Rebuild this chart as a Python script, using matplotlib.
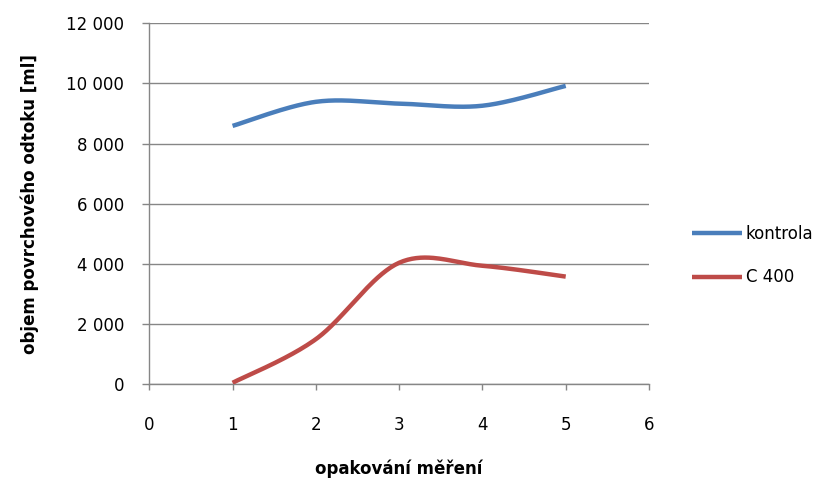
import numpy as np
import matplotlib
matplotlib.use("Agg")
import matplotlib.pyplot as plt
from matplotlib.ticker import FuncFormatter

plt.rcParams['font.family'] = ['DejaVu Sans']

# measurement repetitions and surface runoff volumes [ml]
opakovani = [1, 2, 3, 4, 5]
kontrola = [8590, 9390, 9330, 9260, 9920]
c400 = [50, 1500, 4040, 3940, 3580]

series_names = ["kontrola", "C 400"]
series_colors = ["#4A7EBB", "#BE4B48"]

x_ticks = [0, 1, 2, 3, 4, 5, 6]
y_ticks = [0, 2000, 4000, 6000, 8000, 10000, 12000]


def smooth(xs, ys, n=40):
    """Spreadsheet-style smoothed line: cubic Bezier segments with 1/6 tension."""
    p = np.column_stack([xs, ys]).astype(float)
    pts = [p[0]]
    for i in range(len(p) - 1):
        p0 = p[i - 1] if i > 0 else p[i]
        p1, p2 = p[i], p[i + 1]
        p3 = p[i + 2] if i + 2 < len(p) else p[i + 1]
        c1 = p1 + (p2 - p0) / 6.0
        c2 = p2 - (p3 - p1) / 6.0
        t = np.linspace(0, 1, n)[1:, None]
        seg = ((1 - t) ** 3) * p1 + 3 * ((1 - t) ** 2) * t * c1 + 3 * (1 - t) * t ** 2 * c2 + t ** 3 * p2
        pts.extend(seg)
    pts = np.array(pts)
    return pts[:, 0], pts[:, 1]


fig = plt.figure(figsize=(8.32, 4.82), dpi=100)
ax = fig.add_axes([149.3 / 832, 1 - 384.3 / 482, (649 - 149.3) / 832, (384.3 - 23.3) / 482])

for ys, name, col in zip([kontrola, c400], series_names, series_colors):
    sx, sy = smooth(opakovani, ys)
    ax.plot(sx, sy, color=col, lw=3.2, solid_capstyle='butt', label=name, zorder=3)

ax.set_xlim(0, 6)
ax.set_ylim(0, 12000)
ax.set_xticks(x_ticks)
ax.set_yticks(y_ticks)
ax.yaxis.set_major_formatter(FuncFormatter(lambda v, _: f"{int(v):,}".replace(",", " ")))

grid_col = "#868686"
ax.grid(axis='y', color=grid_col, lw=1.0)
ax.set_axisbelow(True)
for s in ['top', 'right']:
    ax.spines[s].set_visible(False)
for s in ['left', 'bottom']:
    ax.spines[s].set_color(grid_col)
    ax.spines[s].set_linewidth(1.0)

ax.tick_params(axis='y', direction='out', length=5, width=1, color=grid_col,
               labelsize=12, pad=13, labelcolor='#000000')
ax.tick_params(axis='x', direction='out', length=4, width=1, color=grid_col,
               labelsize=12, pad=19, labelcolor='#000000')

ax.set_ylabel("objem povrchového odtoku [ml]", fontsize=12, fontweight='bold', labelpad=20)
ax.set_xlabel("opakování měření", fontsize=12, fontweight='bold', labelpad=18)

leg = fig.legend(loc='upper left', bbox_to_anchor=(685 / 832, 1 - 218 / 482),
                 frameon=False, fontsize=12, handlelength=3.0, handletextpad=0.25,
                 labelspacing=1.55, borderaxespad=0)

fig.savefig("out.png", dpi=100)
